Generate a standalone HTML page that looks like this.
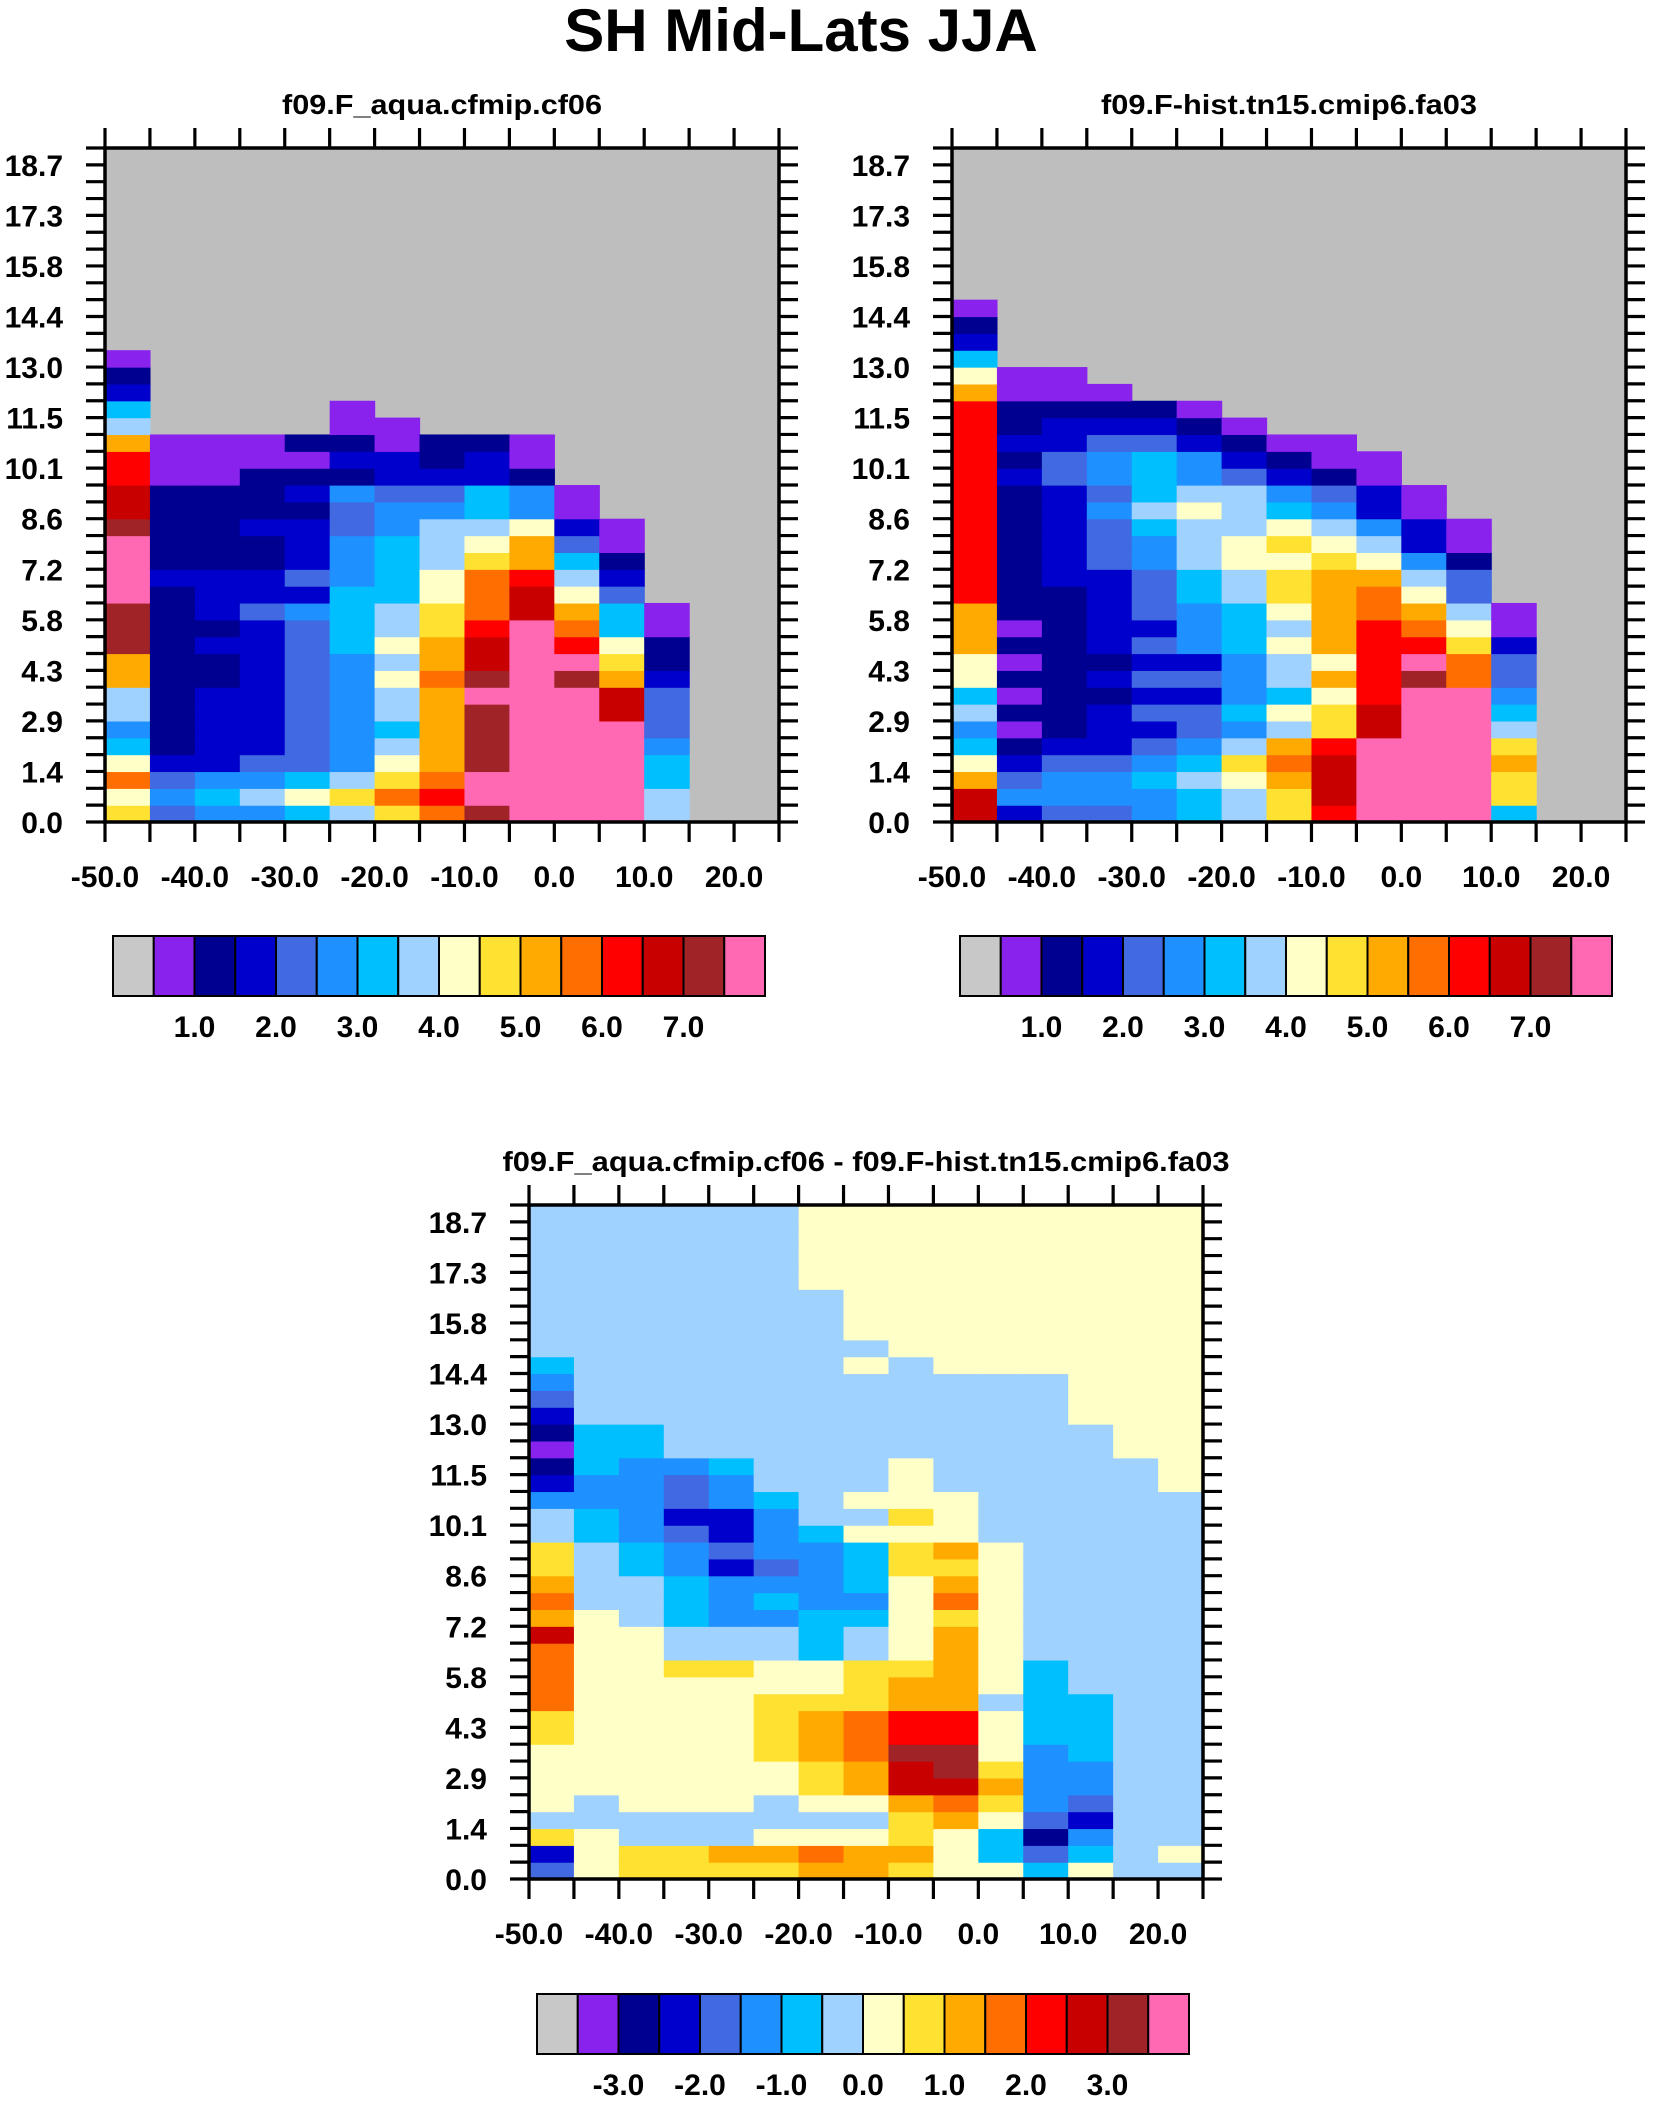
<!DOCTYPE html>
<html><head><meta charset="utf-8"><title>SH Mid-Lats JJA</title>
<style>html,body{margin:0;padding:0;background:#fff}svg{display:block}text{font-family:"Liberation Sans",Arial,sans-serif;font-weight:bold;fill:#000}</style>
</head><body>
<svg id="fig" xmlns="http://www.w3.org/2000/svg" width="1656" height="2103" viewBox="0 0 1656 2103">
<text x="801" y="51" font-size="60" text-anchor="middle">SH Mid-Lats JJA</text>
</svg>
<script>
// ---- data ----
const xCategories = [-50,-45,-40,-35,-30,-25,-20,-15,-10,-5,0,5,10,15,20];
const xTickValues = [-50,-40,-30,-20,-10,0,10,20];
const xTickLabels = ['-50.0','-40.0','-30.0','-20.0','-10.0','0.0','10.0','20.0'];
const yTickValues = [0,1.4375,2.875,4.3125,5.75,7.1875,8.625,10.0625,11.5,12.9375,14.375,15.8125,17.25,18.6875];
const yTickLabels = ['0.0','1.4','2.9','4.3','5.8','7.2','8.6','10.1','11.5','13.0','14.4','15.8','17.3','18.7'];
const rowCount = 40;
const yMaxValue = 19.1667;
const absLevels = [0.5,1,1.5,2,2.5,3,3.5,4,4.5,5,5.5,6,6.5,7,7.5];
const absLevelLabels = ['1.0','2.0','3.0','4.0','5.0','6.0','7.0'];
const diffLevels = [-3.5,-3,-2.5,-2,-1.5,-1,-0.5,0,0.5,1,1.5,2,2.5,3,3.5];
const diffLevelLabels = ['-3.0','-2.0','-1.0','0.0','1.0','2.0','3.0'];
const palette = ['#C8C8C8','#8A22EE','#000090','#0000CD','#4169E1','#1E90FF','#00BFFF','#A0D2FF','#FFFFC8','#FFE132','#FFAA00','#FF6E00','#FF0000','#C80000','#A02328','#FF69B4'];

// columns (bottom -> top); missing rows omitted
const aquaValues = [
 [4.75,4.25,5.75,4.25,3.25,2.75,3.75,3.75,5.25,5.25,7.25,7.25,7.25,7.75,7.75,7.75,7.75,7.25,6.75,6.75,6.25,6.25,5.25,3.75,3.25,1.75,1.25,0.75],
 [2.25,2.75,2.25,1.75,1.25,1.25,1.25,1.25,1.25,1.25,1.25,1.25,1.25,1.25,1.75,1.25,1.25,1.25,1.25,1.25,0.75,0.75,0.75],
 [2.75,3.25,2.75,1.75,1.75,1.75,1.75,1.75,1.25,1.25,1.75,1.25,1.75,1.75,1.75,1.25,1.25,1.25,1.25,1.25,0.75,0.75,0.75],
 [2.75,3.75,2.75,2.25,1.75,1.75,1.75,1.75,1.75,1.75,1.75,1.75,2.25,1.75,1.75,1.25,1.25,1.75,1.25,1.25,1.25,0.75,0.75],
 [3.25,4.25,3.25,2.25,2.25,2.25,2.25,2.25,2.25,2.25,2.25,2.25,2.75,1.75,2.25,1.75,1.75,1.75,1.25,1.75,1.25,0.75,1.25],
 [3.75,4.75,3.75,2.75,2.75,2.75,2.75,2.75,2.75,2.75,3.25,3.25,3.25,3.25,2.75,2.75,2.75,2.25,2.25,2.75,1.25,1.75,1.25,0.75,0.75],
 [4.75,5.75,4.75,4.25,3.75,3.25,3.75,3.75,4.25,3.75,4.25,3.75,3.75,3.25,3.25,3.25,3.25,2.75,2.75,2.25,1.75,1.75,0.75,0.75],
 [5.75,6.25,5.75,5.25,5.25,5.25,5.25,5.25,5.75,5.25,5.25,4.75,4.75,4.25,4.25,3.75,3.75,3.75,2.75,2.25,1.75,1.25,1.25],
 [7.25,7.75,7.75,7.25,7.25,7.25,7.25,7.75,7.25,6.75,6.75,6.25,5.75,5.75,5.75,4.75,4.25,3.75,3.25,3.25,1.75,1.75,1.25],
 [7.75,7.75,7.75,7.75,7.75,7.75,7.75,7.75,7.75,7.75,7.75,7.75,6.75,6.75,6.25,5.25,5.25,4.25,2.75,2.75,1.25,0.75,0.75],
 [7.75,7.75,7.75,7.75,7.75,7.75,7.75,7.75,7.25,7.75,6.25,5.75,5.25,4.25,3.75,3.25,2.25,1.75,0.75,0.75],
 [7.75,7.75,7.75,7.75,7.75,7.75,6.75,6.75,5.25,4.75,4.25,3.25,3.25,2.25,1.75,1.25,0.75,0.75],
 [3.75,3.75,3.25,3.25,2.75,2.25,2.25,2.25,1.75,1.25,1.25,0.75,0.75],
 [],
 []
];
const histValues = [
 [6.75,6.75,5.25,4.25,3.25,2.75,3.75,3.25,4.25,4.25,5.25,5.25,5.25,6.25,6.25,6.25,6.25,6.25,6.25,6.25,6.25,6.25,6.25,6.25,6.25,5.25,4.25,3.25,1.75,1.25,0.75],
 [1.75,2.75,2.25,1.75,1.25,0.75,1.25,0.75,1.25,0.75,1.25,0.75,1.25,1.25,1.25,1.25,1.25,1.25,1.25,1.25,1.75,1.25,1.75,1.25,1.25,0.75,0.75],
 [2.25,2.75,2.75,2.25,1.75,1.25,1.25,1.25,1.25,1.25,1.25,1.25,1.25,1.25,1.75,1.75,1.75,1.75,1.75,1.75,2.25,2.25,1.75,1.75,1.25,0.75,0.75],
 [2.25,2.75,2.75,2.25,1.75,1.75,1.75,1.25,1.75,1.25,1.75,1.75,1.75,1.75,1.75,2.25,2.25,2.25,2.75,2.25,2.75,2.75,2.25,1.75,1.25,0.75],
 [2.75,2.75,3.25,2.75,2.25,1.75,2.25,1.75,2.25,1.75,2.25,1.75,2.25,2.25,2.25,2.75,2.75,3.25,3.75,3.25,3.25,3.25,2.25,1.75,1.25],
 [3.25,3.25,3.75,3.25,2.75,2.25,2.25,1.75,2.25,1.75,2.75,2.75,2.75,3.25,3.25,3.75,3.75,3.75,4.25,3.75,2.75,2.75,1.75,1.25,0.75],
 [3.75,3.75,4.25,4.75,3.75,2.75,3.25,2.75,2.75,2.75,3.25,3.25,3.25,3.75,3.75,4.25,4.25,3.75,3.75,3.75,2.25,1.75,1.25,0.75],
 [4.75,4.75,5.25,5.75,5.25,3.75,4.25,3.25,3.75,3.75,4.25,3.75,4.25,4.75,4.75,4.25,4.75,4.25,3.25,2.75,1.75,1.25,0.75],
 [6.25,6.75,6.75,6.75,6.25,4.75,4.75,4.25,5.25,4.25,5.25,5.25,5.25,5.25,5.25,4.75,4.25,3.75,2.75,2.25,1.25,0.75,0.75],
 [7.75,7.75,7.75,7.75,7.75,6.75,6.75,6.25,6.25,6.25,6.25,6.25,5.75,5.75,5.25,4.25,3.75,2.75,1.75,1.75,0.75,0.75],
 [7.75,7.75,7.75,7.75,7.75,7.75,7.75,7.75,7.25,7.75,6.25,5.75,5.25,4.25,3.75,2.75,1.75,1.75,0.75,0.75],
 [7.75,7.75,7.75,7.75,7.75,7.75,7.75,7.75,5.75,5.75,4.75,4.25,3.75,2.25,2.25,1.25,0.75,0.75],
 [3.25,4.75,4.75,5.25,4.75,3.75,3.25,2.75,2.25,2.25,1.75,0.75,0.75],
 [],
 []
];
const diffValues = [
 [-1.75,-2.25,0.75,-0.25,0.25,0.25,0.25,0.25,0.75,0.75,1.75,1.75,1.75,1.75,2.75,1.25,1.75,1.25,0.75,0.75,-0.25,-0.25,-1.25,-2.25,-2.75,-3.25,-2.75,-2.25,-1.75,-1.25,-0.75,-0.25,-0.25,-0.25,-0.25,-0.25,-0.25,-0.25,-0.25,-0.25],
 [0.25,0.25,0.25,-0.25,-0.25,0.25,0.25,0.25,0.25,0.25,0.25,0.25,0.25,0.25,0.25,0.25,-0.25,-0.25,-0.25,-0.25,-0.75,-0.75,-1.25,-1.25,-0.75,-0.75,-0.75,-0.25,-0.25,-0.25,-0.25,-0.25,-0.25,-0.25,-0.25,-0.25,-0.25,-0.25,-0.25,-0.25],
 [0.75,0.75,-0.25,-0.25,0.25,0.25,0.25,0.25,0.25,0.25,0.25,0.25,0.25,0.25,0.25,-0.25,-0.25,-0.25,-0.75,-0.75,-1.25,-1.25,-1.25,-1.25,-1.25,-0.75,-0.75,-0.25,-0.25,-0.25,-0.25,-0.25,-0.25,-0.25,-0.25,-0.25,-0.25,-0.25,-0.25,-0.25],
 [0.75,0.75,-0.25,-0.25,0.25,0.25,0.25,0.25,0.25,0.25,0.25,0.25,0.75,-0.25,-0.25,-0.75,-0.75,-0.75,-1.25,-1.25,-1.75,-2.25,-1.75,-1.75,-1.25,-0.25,-0.25,-0.25,-0.25,-0.25,-0.25,-0.25,-0.25,-0.25,-0.25,-0.25,-0.25,-0.25,-0.25,-0.25],
 [0.75,1.25,-0.25,-0.25,0.25,0.25,0.25,0.25,0.25,0.25,0.25,0.25,0.75,-0.25,-0.25,-1.25,-1.25,-1.25,-2.25,-1.75,-2.25,-2.25,-1.25,-1.25,-0.75,-0.25,-0.25,-0.25,-0.25,-0.25,-0.25,-0.25,-0.25,-0.25,-0.25,-0.25,-0.25,-0.25,-0.25,-0.25],
 [0.75,1.25,0.25,-0.25,-0.25,0.25,0.25,0.75,0.75,0.75,0.75,0.25,0.25,-0.25,-0.25,-1.25,-0.75,-1.25,-1.75,-1.25,-1.25,-1.25,-0.75,-0.25,-0.25,-0.25,-0.25,-0.25,-0.25,-0.25,-0.25,-0.25,-0.25,-0.25,-0.25,-0.25,-0.25,-0.25,-0.25,-0.25],
 [1.25,1.75,0.25,-0.25,0.25,0.75,0.75,1.25,1.25,1.25,0.75,0.25,0.25,-0.75,-0.75,-0.75,-1.25,-1.25,-1.25,-1.25,-0.75,-0.25,-0.25,-0.25,-0.25,-0.25,-0.25,-0.25,-0.25,-0.25,-0.25,-0.25,-0.25,-0.25,-0.25,0.25,0.25,0.25,0.25,0.25],
 [1.25,1.25,0.25,-0.25,0.25,1.25,1.25,1.75,1.75,1.75,0.75,0.75,0.75,-0.25,-0.25,-0.75,-1.25,-0.75,-0.75,-0.75,0.25,-0.25,0.25,-0.25,-0.25,-0.25,-0.25,-0.25,-0.25,-0.25,0.25,-0.25,0.25,0.25,0.25,0.25,0.25,0.25,0.25,0.25],
 [0.75,1.25,0.75,0.75,1.25,2.75,2.75,3.25,2.25,2.25,1.25,1.25,0.75,0.25,0.25,0.25,0.25,0.25,0.75,0.75,0.25,0.75,0.25,0.25,0.25,-0.25,-0.25,-0.25,-0.25,-0.25,-0.25,0.25,0.25,0.25,0.25,0.25,0.25,0.25,0.25,0.25],
 [0.25,0.25,0.25,1.25,1.75,2.75,3.25,3.25,2.25,2.25,1.25,1.25,1.25,1.25,1.25,0.75,1.75,1.25,0.75,1.25,0.25,0.25,0.25,-0.25,-0.25,-0.25,-0.25,-0.25,-0.25,-0.25,0.25,0.25,0.25,0.25,0.25,0.25,0.25,0.25,0.25,0.25],
 [0.25,-0.75,-0.75,0.25,0.75,1.25,0.75,0.25,0.25,0.25,-0.25,0.25,0.25,0.25,0.25,0.25,0.25,0.25,0.25,0.25,-0.25,-0.25,-0.25,-0.25,-0.25,-0.25,-0.25,-0.25,-0.25,-0.25,0.25,0.25,0.25,0.25,0.25,0.25,0.25,0.25,0.25,0.25],
 [-0.75,-1.75,-2.75,-1.75,-1.25,-1.25,-1.25,-1.25,-0.75,-0.75,-0.75,-0.75,-0.75,-0.25,-0.25,-0.25,-0.25,-0.25,-0.25,-0.25,-0.25,-0.25,-0.25,-0.25,-0.25,-0.25,-0.25,-0.25,-0.25,-0.25,0.25,0.25,0.25,0.25,0.25,0.25,0.25,0.25,0.25,0.25],
 [0.25,-0.75,-1.25,-2.25,-1.75,-1.25,-1.25,-0.75,-0.75,-0.75,-0.75,-0.25,-0.25,-0.25,-0.25,-0.25,-0.25,-0.25,-0.25,-0.25,-0.25,-0.25,-0.25,-0.25,-0.25,-0.25,-0.25,0.25,0.25,0.25,0.25,0.25,0.25,0.25,0.25,0.25,0.25,0.25,0.25,0.25],
 [-0.25,-0.25,-0.25,-0.25,-0.25,-0.25,-0.25,-0.25,-0.25,-0.25,-0.25,-0.25,-0.25,-0.25,-0.25,-0.25,-0.25,-0.25,-0.25,-0.25,-0.25,-0.25,-0.25,-0.25,-0.25,0.25,0.25,0.25,0.25,0.25,0.25,0.25,0.25,0.25,0.25,0.25,0.25,0.25,0.25,0.25],
 [-0.25,0.25,-0.25,-0.25,-0.25,-0.25,-0.25,-0.25,-0.25,-0.25,-0.25,-0.25,-0.25,-0.25,-0.25,-0.25,-0.25,-0.25,-0.25,-0.25,-0.25,-0.25,-0.25,0.25,0.25,0.25,0.25,0.25,0.25,0.25,0.25,0.25,0.25,0.25,0.25,0.25,0.25,0.25,0.25,0.25]
];

// ---- drawing ----
const NS = 'http://www.w3.org/2000/svg';
const svg = document.getElementById('fig');
function mk(tag, attrs, parent) {
  const e = document.createElementNS(NS, tag);
  for (const k in attrs) e.setAttribute(k, attrs[k]);
  (parent || svg).appendChild(e);
  return e;
}
function colorIndex(v, levels) {
  let i = 0;
  for (const l of levels) if (v >= l) i++;
  return Math.min(i, 15);
}

function drawPanel(cfg) {
  const g = mk('g', {});
  
  
  const L = cfg.left, T = cfg.top, W = 674, H = 674, B = T + H;
  const xScale = v => L + (v - xCategories[0]) / 75 * W;
  const yScale = v => B - v / yMaxValue * H;
  const rowUnit = yMaxValue / rowCount;

  const t = mk('text', {x: L + W / 2, y: T - 34, 'font-size': 28, 'text-anchor': 'middle', textLength: cfg.titleLen, lengthAdjust: 'spacingAndGlyphs'}, g);
  t.textContent = cfg.title;
  
  

  const bg = mk('rect', {x: L, y: T, width: W, height: H, fill: '#BEBEBE'}, g);
  
  

  cfg.values.forEach((col, c) => {
    col.forEach((v, r) => {
      if (v === null || v === undefined) return;
      const x0 = xScale(xCategories[c]), x1 = xScale(xCategories[c] + 5);
      const y0 = yScale((r + 1) * rowUnit), y1 = yScale(r * rowUnit);
      const cell = mk('rect', {x: x0.toFixed(2), y: y0.toFixed(2), width: (x1 - x0 + 0.6).toFixed(2), height: (y1 - y0 + 0.6).toFixed(2), fill: palette[colorIndex(v, cfg.levels)]}, g);
      
      
    });
  });

  const frame = mk('rect', {x: L, y: T, width: W, height: H, fill: 'none', stroke: '#000', 'stroke-width': 3.5}, g);
  
  

  let d = '';
  for (let c = 0; c <= 15; c++) {
    const x = xScale(xCategories[0] + 5 * c);
    d += `M${x},${T}v-20M${x},${B}v20`;
  }
  for (let r = 0; r <= rowCount; r++) {
    const y = yScale(r * rowUnit);
    d += `M${L},${y}h-19M${L + W},${y}h19`;
  }
  const ticks = mk('path', {d: d, stroke: '#000', 'stroke-width': 3.2, fill: 'none'}, g);
  
  

  xTickValues.forEach((v, i) => {
    const tl = mk('text', {x: xScale(v), y: B + 65, 'font-size': 30, 'text-anchor': 'middle'}, g);
    tl.textContent = xTickLabels[i];
    
    
  });
  yTickValues.forEach((v, i) => {
    const tl = mk('text', {x: L - 42, y: yScale(v) + 11, 'font-size': 30, 'text-anchor': 'end'}, g);
    tl.textContent = yTickLabels[i];
    
    
  });

  const cb = mk('g', {}, g);
  
  
  const cbL = cfg.cbLeft, cbW = 652, cbT = cfg.cbTop, cbH = 60, bw = cbW / 16;
  palette.forEach((col, i) => {
    const box = mk('rect', {x: cbL + i * bw, y: cbT, width: bw, height: cbH, fill: col, stroke: '#000', 'stroke-width': 2}, cb);
    
    
  });
  cfg.cbLabels.forEach((lab, i) => {
    const tl = mk('text', {x: cbL + (2 + 2 * i) * bw, y: cbT + 101, 'font-size': 30, 'text-anchor': 'middle'}, cb);
    tl.textContent = lab;
    
    
  });
}

drawPanel({name: 'panel-aqua', title: 'f09.F_aqua.cfmip.cf06', titleLen: 320, left: 105, top: 148, values: aquaValues, levels: absLevels, cbLeft: 113, cbTop: 936, cbLabels: absLevelLabels});
drawPanel({name: 'panel-hist', title: 'f09.F-hist.tn15.cmip6.fa03', titleLen: 376, left: 952, top: 148, values: histValues, levels: absLevels, cbLeft: 960, cbTop: 936, cbLabels: absLevelLabels});
drawPanel({name: 'panel-difference', title: 'f09.F_aqua.cfmip.cf06 - f09.F-hist.tn15.cmip6.fa03', titleLen: 727, left: 529, top: 1205, values: diffValues, levels: diffLevels, cbLeft: 537, cbTop: 1994, cbLabels: diffLevelLabels});
</script>
</body></html>
